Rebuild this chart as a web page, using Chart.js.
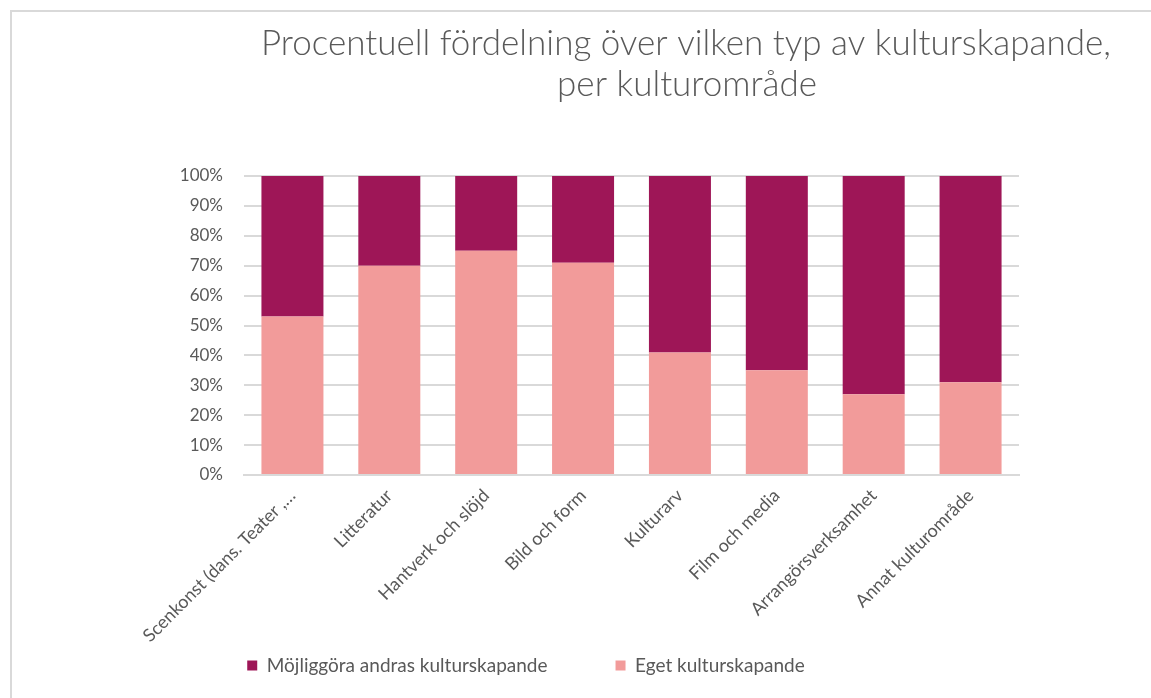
<!DOCTYPE html>
<html>
<head>
<meta charset="utf-8">
<script src="https://cdn.jsdelivr.net/npm/chart.js@4"></script>
<style>
html,body{margin:0;padding:0;background:#fff;}
#wrap{width:1151px;height:698px;position:relative;}
</style>
</head>
<body>
<div id="wrap"><canvas id="c" width="1151" height="698"></canvas></div>
<script>
const titleLines = ["Procentuell fördelning över vilken typ av kulturskapande,", "per kulturområde"];
const categories = ["Scenkonst (dans. Teater ,…", "Litteratur", "Hantverk och slöjd", "Bild och form", "Kulturarv", "Film och media", "Arrangörsverksamhet", "Annat kulturområde"];
const egetLabel = "Eget kulturskapande";
const mojLabel = "Möjliggöra andras kulturskapande";
const egetValues = [53, 70, 75, 71, 41, 35, 27, 31];
const mojValues = [47, 30, 25, 29, 59, 65, 73, 69];
const yTicks = [0, 10, 20, 30, 40, 50, 60, 70, 80, 90, 100];

const FONT = "Lato, 'Open Sans', sans-serif";
const GREY = "#595959";

const framePlugin = {
  id: 'frame',
  beforeDraw(chart) {
    const ctx = chart.ctx;
    ctx.save();
    ctx.fillStyle = '#fff';
    ctx.fillRect(0, 0, chart.width, chart.height);
    ctx.strokeStyle = '#d9d9d9';
    ctx.lineWidth = 2;
    ctx.beginPath();
    ctx.moveTo(11, chart.height);
    ctx.lineTo(11, 11);
    ctx.lineTo(chart.width, 11);
    ctx.stroke();
    ctx.restore();
  }
};

const titlePlugin = {
  id: 'customTitle',
  afterDraw(chart) {
    const ctx = chart.ctx;
    ctx.save();
    ctx.fillStyle = GREY;
    ctx.textAlign = 'center';
    ctx.textBaseline = 'alphabetic';
    ctx.font = "300 35px " + FONT;
    ctx.fillText(titleLines[0], 686, 55);
    ctx.fillText(titleLines[1], 687, 96);
    ctx.restore();
  }
};

new Chart(document.getElementById('c'), {
  type: 'bar',
  data: {
    labels: categories,
    datasets: [
      { label: egetLabel, data: egetValues, backgroundColor: '#F29B9A', borderWidth: 0 },
      { label: mojLabel, data: mojValues, backgroundColor: '#9E1657', borderWidth: 0 }
    ]
  },
  options: {
    responsive: false,
    animation: false,
    layout: { padding: { left: 33, right: 132, top: 176, bottom: 13 } },
    plugins: {
      title: { display: false },
      tooltip: { enabled: false },
      legend: {
        position: 'bottom',
        reverse: true,
        labels: {
          boxWidth: 10, boxHeight: 10, color: GREY,
          font: { family: FONT, size: 19 },
          padding: 68
        }
      }
    },
    scales: {
      x: {
        stacked: true,
        grid: { display: false, drawTicks: false },
        border: { display: true, color: '#d9d9d9', width: 2 },
        ticks: {
          color: GREY, font: { family: FONT, size: 18 },
          minRotation: 45, maxRotation: 45, padding: 10, autoSkip: false
        },
        afterFit(s) { s.height = 113; s._computeLabelArea = () => undefined; }
      },
      y: {
        stacked: true,
        min: 0, max: 100,
        afterBuildTicks(s) { s.ticks = yTicks.map(v => ({ value: v })); },
        grid: { color: '#d9d9d9', lineWidth: 2, drawTicks: false },
        border: { display: false },
        ticks: {
          color: GREY, font: { family: FONT, size: 17 }, padding: 21,
          callback: v => v + '%'
        },
        afterFit(s) { s.width = 211; }
      }
    },
    datasets: { bar: { barPercentage: 0.64, categoryPercentage: 1.0 } }
  },
  plugins: [framePlugin, titlePlugin]
});
</script>
</body>
</html>
